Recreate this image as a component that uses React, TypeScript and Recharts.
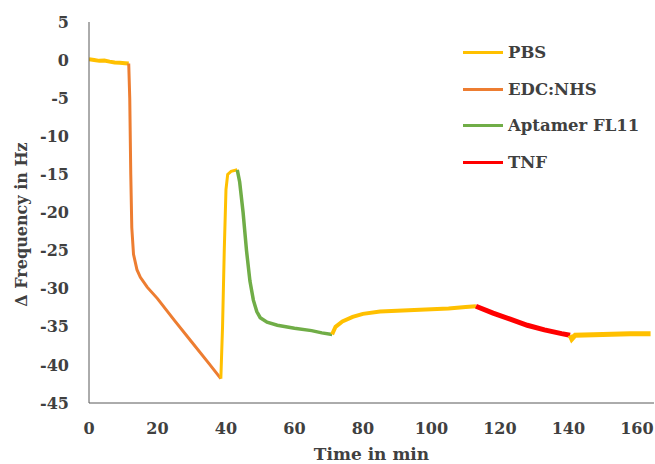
import { LineChart, Line, XAxis, YAxis, Label } from 'recharts';

const xTicks = [0, 20, 40, 60, 80, 100, 120, 140, 160];
const yTicks = [5, 0, -5, -10, -15, -20, -25, -30, -35, -40, -45];

// time (min) vs frequency shift (Hz), one array per buffer step
const pbsStart = [
  { t: 0, v: 0.1 }, { t: 1.5, v: 0 }, { t: 3, v: -0.1 }, { t: 4.5, v: -0.05 },
  { t: 6, v: -0.2 }, { t: 7.5, v: -0.3 }, { t: 9, v: -0.35 }, { t: 10.5, v: -0.4 },
  { t: 11.6, v: -0.45 },
];
const edcNhs = [
  { t: 11.6, v: -0.45 }, { t: 11.9, v: -5 }, { t: 12.2, v: -15 }, { t: 12.5, v: -22 },
  { t: 13, v: -25.5 }, { t: 14, v: -27.5 }, { t: 15, v: -28.5 }, { t: 17, v: -29.8 },
  { t: 20, v: -31.3 }, { t: 25, v: -34.2 }, { t: 30, v: -37.0 }, { t: 35, v: -39.8 },
  { t: 38.5, v: -41.8 },
];
const pbsRinse = [
  { t: 38.5, v: -41.8 }, { t: 39, v: -35 }, { t: 39.5, v: -25 }, { t: 40, v: -17 },
  { t: 40.5, v: -15 }, { t: 41.5, v: -14.6 }, { t: 43.3, v: -14.4 },
];
const aptamer = [
  { t: 43.3, v: -14.4 }, { t: 44, v: -16 }, { t: 45, v: -20 }, { t: 46, v: -25 },
  { t: 47, v: -29 }, { t: 48, v: -31.5 }, { t: 49, v: -33 }, { t: 50, v: -33.8 },
  { t: 52, v: -34.4 }, { t: 55, v: -34.8 }, { t: 60, v: -35.2 }, { t: 65, v: -35.5 },
  { t: 68, v: -35.8 }, { t: 71, v: -36 },
];
const pbsBaseline = [
  { t: 71, v: -36 }, { t: 72, v: -35 }, { t: 74, v: -34.3 }, { t: 77, v: -33.7 },
  { t: 80, v: -33.3 }, { t: 85, v: -33.0 }, { t: 90, v: -32.9 }, { t: 95, v: -32.8 },
  { t: 100, v: -32.7 }, { t: 105, v: -32.6 }, { t: 110, v: -32.4 }, { t: 113, v: -32.3 },
];
const tnf = [
  { t: 113, v: -32.3 }, { t: 118, v: -33.2 }, { t: 123, v: -34.0 }, { t: 128, v: -34.8 },
  { t: 133, v: -35.4 }, { t: 138, v: -35.9 }, { t: 140.5, v: -36.1 },
];
const pbsEnd = [
  { t: 140.5, v: -36.1 }, { t: 141, v: -36.6 }, { t: 142, v: -36.1 }, { t: 150, v: -36.0 },
  { t: 158, v: -35.9 }, { t: 164, v: -35.9 },
];

const legendItems = [
  { name: 'PBS', color: '#FFC000' },
  { name: 'EDC:NHS', color: '#ED7D31' },
  { name: 'Aptamer FL11', color: '#70AD47' },
  { name: 'TNF', color: '#FF0000' },
];

const FONT = '"DejaVu Serif", serif';
const TEXT = '#404040';

function LegendBox() {
  return (
    <div
      style={{
        position: 'absolute', left: 463, top: 34,
        fontFamily: FONT, fontWeight: 'bold', fontSize: 16.5, color: TEXT,
      }}
    >
      {legendItems.map((d) => (
        <div key={d.name} style={{ display: 'flex', alignItems: 'center', height: 36.7 }}>
          <span style={{ width: 40, height: 3, background: d.color, marginRight: 5 }} />
          {d.name}
        </div>
      ))}
    </div>
  );
}

function YTitle(props: any) {
  const vb = props.viewBox || { x: 0, y: 0, width: 0, height: 0 };
  const cx = 21;
  const cy = vb.y + vb.height / 2 + 12;
  return (
    <text
      x={cx}
      y={cy}
      transform={`rotate(-90, ${cx}, ${cy})`}
      textAnchor="middle"
      dominantBaseline="central"
      style={{ fontFamily: FONT, fontWeight: 'bold', fontSize: 16, fill: TEXT }}
    >
      Δ Frequency in Hz
    </text>
  );
}

export default function App() {
  const tickStyle = { fontFamily: FONT, fontWeight: 'bold', fontSize: 16, fill: TEXT };
  return (
    <div style={{ position: 'absolute', left: 0, top: 0, width: 655, height: 464, background: '#fff' }}>
      <LineChart width={655} height={464} margin={{ top: 22, right: 1, left: 0, bottom: 0 }}>
        <XAxis
          type="number"
          dataKey="t"
          domain={[0, 165]}
          ticks={xTicks}
          allowDataOverflow
          tickSize={0}
          tickMargin={20}
          height={61}
          stroke="#595959"
          tick={tickStyle}
        >
          <Label
            value="Time in min"
            position="insideBottom"
            offset={4}
            style={{ fontFamily: FONT, fontWeight: 'bold', fontSize: 17, fill: TEXT }}
          />
        </XAxis>
        <YAxis
          type="number"
          dataKey="v"
          domain={[-45, 5]}
          ticks={yTicks}
          allowDataOverflow
          tickSize={0}
          tickMargin={20}
          width={89}
          stroke="#595959"
          tick={tickStyle}
        >
          <Label content={YTitle} />
        </YAxis>
        <Line data={pbsStart} dataKey="v" stroke="#FFC000" strokeWidth={4} dot={false} isAnimationActive={false} />
        <Line data={edcNhs} dataKey="v" stroke="#ED7D31" strokeWidth={3} dot={false} isAnimationActive={false} />
        <Line data={pbsRinse} dataKey="v" stroke="#FFC000" strokeWidth={3} dot={false} isAnimationActive={false} />
        <Line data={aptamer} dataKey="v" stroke="#70AD47" strokeWidth={3.5} dot={false} isAnimationActive={false} />
        <Line data={pbsBaseline} dataKey="v" stroke="#FFC000" strokeWidth={4} dot={false} isAnimationActive={false} />
        <Line data={tnf} dataKey="v" stroke="#FF0000" strokeWidth={5} dot={false} isAnimationActive={false} />
        <Line data={pbsEnd} dataKey="v" stroke="#FFC000" strokeWidth={5} dot={false} isAnimationActive={false} />
      </LineChart>
      <LegendBox />
    </div>
  );
}
